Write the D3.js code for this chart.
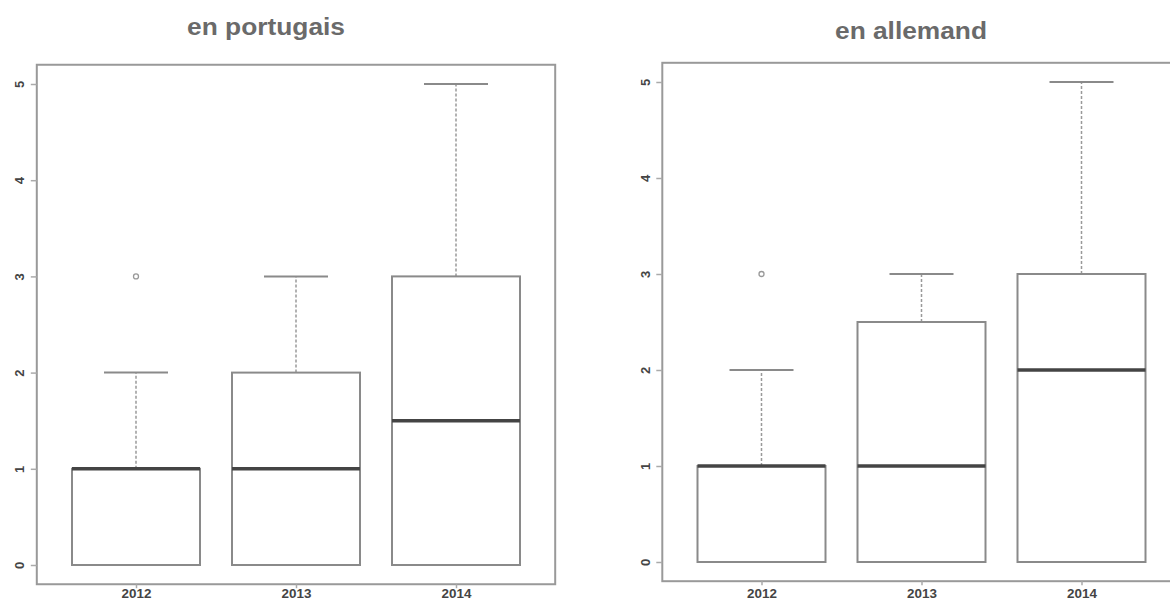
<!DOCTYPE html>
<html>
<head>
<meta charset="utf-8">
<script src="https://cdn.jsdelivr.net/npm/d3@7"></script>
<style>
  html, body { margin: 0; padding: 0; background: #fff; }
  svg { display: block; }
</style>
</head>
<body>
<svg id="chart" width="1170" height="604"></svg>
<script>
// Years on the horizontal axis
const years = ["2012", "2013", "2014"];
const yTicks = [0, 1, 2, 3, 4, 5];

// Five-number summaries, Portuguese
const ptLow     = [0, 0, 0];
const ptQ1      = [0, 0, 0];
const ptMedian  = [1, 1, 1.5];
const ptQ3      = [1, 2, 3];
const ptHigh    = [2, 3, 5];
const ptOutliers = [[3], [], []];

// Five-number summaries, German
const deLow     = [0, 0, 0];
const deQ1      = [0, 0, 0];
const deMedian  = [1, 1, 2];
const deQ3      = [1, 2.5, 3];
const deHigh    = [2, 3, 5];
const deOutliers = [[3], [], []];

const panels = [
  { title: "en portugais", low: ptLow, q1: ptQ1, med: ptMedian, q3: ptQ3, high: ptHigh, out: ptOutliers,
    x1: 136, y0: 565, y5: 84, titleX: 266, titleY: 35, labelPad: 1 },
  { title: "en allemand", low: deLow, q1: deQ1, med: deMedian, q3: deQ3, high: deHigh, out: deOutliers,
    x1: 761.5, y0: 562, y5: 82, titleX: 911, titleY: 39, labelPad: 4 }
];

const svg = d3.select("#chart");
const stroke = "#8a8a8a";
const step = 160;

panels.forEach(p => {
  const g = svg.append("g");
  const x = d3.scaleLinear().domain([1, 2]).range([p.x1, p.x1 + step]);
  const y = d3.scaleLinear().domain([0, 5]).range([p.y0, p.y5]);
  const idx = years.map((_, i) => i + 1);
  const boxW = x(1.4) - x(0.6);
  const capW = boxW / 2;

  // title
  g.append("text")
    .attr("x", p.titleX).attr("y", p.titleY)
    .attr("text-anchor", "middle")
    .attr("font-family", "Liberation Sans, Arial, sans-serif")
    .attr("font-weight", "bold")
    .attr("font-size", 23)
    .attr("fill", "#6a6a6a")
    .attr("textLength", p.title === "en portugais" ? 158 : 152)
    .attr("lengthAdjust", "spacingAndGlyphs")
    .text(p.title);

  // plot frame
  const fx0 = x(0.38), fx1 = x(3.62), fy0 = y(-0.2), fy1 = y(5.2);
  g.append("rect")
    .attr("x", fx0).attr("y", fy1)
    .attr("width", fx1 - fx0).attr("height", fy0 - fy1)
    .attr("fill", "none").attr("stroke", "#999").attr("stroke-width", 2);

  // y axis
  const ya = g.append("g")
    .attr("transform", `translate(${fx0},0)`)
    .call(d3.axisLeft(y).tickValues(yTicks).tickSize(6).tickPadding(4).tickFormat(d3.format("d")));
  ya.select(".domain").remove();
  ya.selectAll(".tick line").attr("stroke", "#aaa").attr("stroke-width", 1.5);
  ya.selectAll(".tick text")
    .attr("font-family", "Liberation Sans, Arial, sans-serif")
    .attr("font-size", 13).attr("font-weight", "bold").attr("fill", "#444")
    .attr("text-anchor", "middle")
    .attr("x", 0).attr("dy", 0)
    .attr("transform", "translate(-17,0) rotate(-90) translate(0,4.5)");

  // x axis
  const xa = g.append("g")
    .attr("transform", `translate(0,${fy0})`)
    .call(d3.axisBottom(x).tickValues(idx).tickSize(4).tickPadding(p.labelPad).tickFormat(d => years[d - 1]));
  xa.select(".domain").remove();
  xa.selectAll(".tick line").attr("stroke", "#aaa").attr("stroke-width", 1.5);
  xa.selectAll(".tick text")
    .attr("font-family", "Liberation Sans, Arial, sans-serif")
    .attr("font-size", 12).attr("font-weight", "bold").attr("fill", "#444")
    .attr("transform", "scale(1.12,1)");

  // boxes
  idx.forEach((k, i) => {
    const cx = x(k);
    // whisker (dashed) from box top to upper whisker
    g.append("line")
      .attr("x1", cx).attr("x2", cx)
      .attr("y1", y(p.q3[i])).attr("y2", y(p.high[i]))
      .attr("stroke", "#999").attr("stroke-width", 1.5)
      .attr("stroke-dasharray", "3,2");
    g.append("line")
      .attr("x1", cx).attr("x2", cx)
      .attr("y1", y(p.q1[i])).attr("y2", y(p.low[i]))
      .attr("stroke", "#999").attr("stroke-width", 1.5)
      .attr("stroke-dasharray", "3,2");
    // caps
    g.append("line")
      .attr("x1", cx - capW / 2).attr("x2", cx + capW / 2)
      .attr("y1", y(p.high[i])).attr("y2", y(p.high[i]))
      .attr("stroke", stroke).attr("stroke-width", 2);
    // box
    g.append("rect")
      .attr("x", cx - boxW / 2).attr("y", y(p.q3[i]))
      .attr("width", boxW).attr("height", y(p.q1[i]) - y(p.q3[i]))
      .attr("fill", "#fff").attr("stroke", stroke).attr("stroke-width", 2);
    // median
    g.append("line")
      .attr("x1", cx - boxW / 2).attr("x2", cx + boxW / 2)
      .attr("y1", y(p.med[i])).attr("y2", y(p.med[i]))
      .attr("stroke", "#444").attr("stroke-width", 3.5);
    // outliers
    p.out[i].forEach(v => {
      g.append("circle")
        .attr("cx", cx).attr("cy", y(v)).attr("r", 2.5)
        .attr("fill", "none").attr("stroke", "#999").attr("stroke-width", 1.3);
    });
  });
});
</script>
</body>
</html>
